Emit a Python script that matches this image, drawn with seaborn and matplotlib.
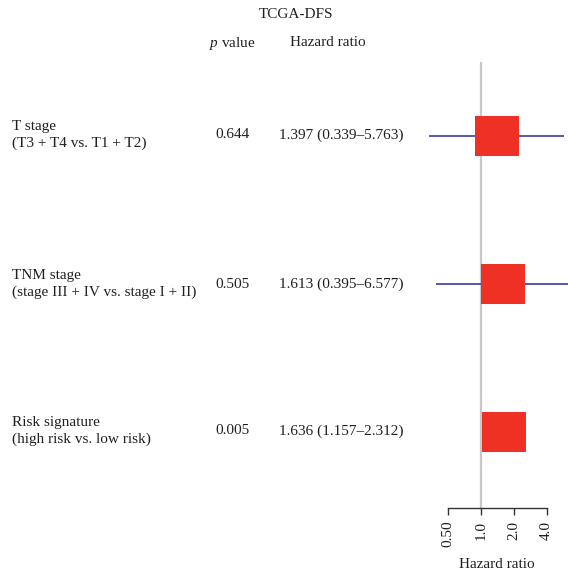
import matplotlib
matplotlib.use("Agg")
import matplotlib.pyplot as plt
import seaborn as sns
import pandas as pd
import numpy as np

# ---- data ----
labels = ["T stage\n(T3 + T4 vs. T1 + T2)",
          "TNM stage\n(stage III + IV vs. stage I + II)",
          "Risk signature\n(high risk vs. low risk)"]
p_values = ["0.644", "0.505", "0.005"]
hr = [1.397, 1.613, 1.636]
hr_low = [0.339, 0.395, 1.157]
hr_high = [5.763, 6.577, 2.312]
hr_text = ["1.397 (0.339\u20135.763)", "1.613 (0.395\u20136.577)", "1.636 (1.157\u20132.312)"]
ticks = [0.5, 1.0, 2.0, 4.0]
tick_labels = ["0.50", "1.0", "2.0", "4.0"]

df = pd.DataFrame({"row": np.arange(len(labels)), "hr": hr, "lo": hr_low, "hi": hr_high})

sns.set_theme(style="white")
plt.rcParams["font.family"] = ["Liberation Serif", "DejaVu Serif"]
plt.rcParams["mathtext.fontset"] = "custom"
plt.rcParams["mathtext.rm"] = "Liberation Serif"
plt.rcParams["mathtext.it"] = "Liberation Serif:italic"
TXT = "#231f20"
FS = 11

W, H = 568, 578
fig = plt.figure(figsize=(W / 100, H / 100), dpi=100)

# plot axes placed in pixel layout
left_px, right_px, top_px, bot_px = 414.7, 568, 62, 508
ax = fig.add_axes([left_px / W, 1 - bot_px / H, (right_px - left_px) / W, (bot_px - top_px) / H])
ax.set_xscale("log", base=2)
ax.set_xlim(0.25, 6.256)
ax.set_ylim(2.514, -0.5)

ax.axvline(1.0, color="#c8c8c8", lw=1.6, zorder=1)
ax.hlines(df["row"], df["lo"], df["hi"], color="#3a3aa6", lw=1.2, zorder=2)

box = [(-1.1, -1), (1.1, -1), (1.1, 1), (-1.1, 1), (-1.1, -1)]
sns.scatterplot(data=df, x="hr", y="row", marker=box, s=(44 * 0.72) ** 2,
                color="#ee3124", edgecolor="none", linewidth=0, ax=ax, zorder=3, legend=False)

for s in ["top", "right", "left"]:
    ax.spines[s].set_visible(False)
ax.spines["bottom"].set_bounds(0.5, 4.0)
ax.spines["bottom"].set_color("#333333")
ax.spines["bottom"].set_linewidth(1.0)
ax.set_xticks(ticks)
ax.set_xticklabels(tick_labels, rotation=90, fontsize=FS, color=TXT)
ax.xaxis.set_minor_locator(matplotlib.ticker.NullLocator())
ax.tick_params(axis="x", bottom=True, direction="out", length=5, width=1.0, color="#333333", pad=4)
ax.set_yticks([])
ax.set_xlabel("")
ax.set_ylabel("")
ax.patch.set_alpha(0)

def ftext(x, y, s, **kw):
    kw.setdefault("fontsize", FS)
    kw.setdefault("color", TXT)
    fig.text(x / W, 1 - y / H, s, **kw)

ftext(296, 14, "TCGA-DFS", ha="center", va="center")
ftext(232, 43, "$\\it{p}$ value", ha="center", va="center")
ftext(328, 43, "Hazard ratio", ha="center", va="center")
ftext(497, 565, "Hazard ratio", ha="center", va="center")

row_px = [135, 284, 431]
for i in range(len(labels)):
    ftext(12, row_px[i], labels[i], ha="left", va="center", linespacing=1.42)
    ftext(233, row_px[i], p_values[i], ha="center", va="center")
    ftext(279, row_px[i], hr_text[i], ha="left", va="center")

fig.savefig("out.png", dpi=100, facecolor="white")
